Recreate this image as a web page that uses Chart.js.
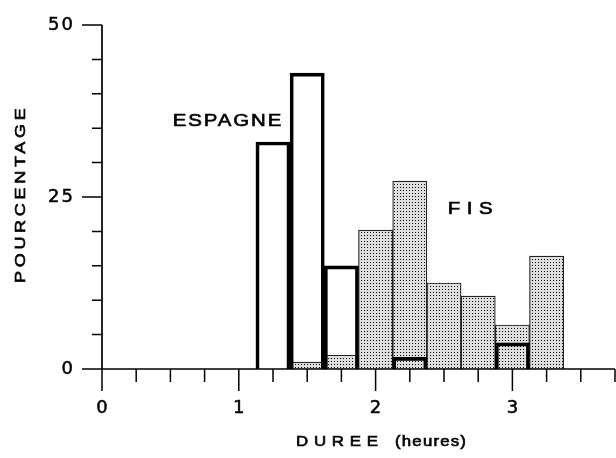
<!DOCTYPE html>
<html><head><meta charset="utf-8">
<script src="https://cdn.jsdelivr.net/npm/chart.js@4"></script>
<style>html,body{margin:0;padding:0;background:#fff;}#wrap{width:616px;height:458px;}</style>
</head><body><div id="wrap"><canvas id="c"></canvas></div>
<script>
// ---- data ----
const durations = [1.25, 1.5, 1.75, 2.0, 2.25, 2.5, 2.75, 3.0, 3.25]; // hours, bin centres
const espagne   = [33, 43, 15, 0, 1.7, 0, 0, 3.8, 0];                 // %
const fis       = [0, 1, 2, 20.2, 27.3, 12.5, 10.6, 6.4, 16.4];        // %
const xTickLabels = ['0', '1', '2', '3'];
const yTickLabels = ['0', '25', '50'];
const seriesNames = ['ESPAGNE', 'FIS'];
const xTitleParts = ['DUREE', '(heures)'];
const yTitle = 'POURCENTAGE';

const INK = '#000';
const FONT = '"Liberation Sans", Arial, Helvetica, sans-serif';
const TICKFONT = '"DejaVu Sans", "Liberation Sans", sans-serif';
const TICK_SPACING = 2;

function stipplePattern(ctx) {
  const c = document.createElement('canvas');
  c.width = 3; c.height = 3;
  const g = c.getContext('2d');
  g.fillStyle = '#dedede'; g.fillRect(0, 0, 3, 3);
  g.fillStyle = '#000'; g.fillRect(1, 1, 1, 1);
  return ctx.createPattern(c, 'repeat');
}

function spacedText(ctx, text, x, y, o) {
  const sx = o.sx || 1.2, sp = o.sp || 0;
  ctx.save();
  ctx.translate(x, y);
  if (o.rot) ctx.rotate(o.rot);
  ctx.scale(sx, 1);
  ctx.font = o.size + 'px ' + FONT;
  ctx.letterSpacing = (sp / sx) + 'px';
  ctx.textBaseline = 'alphabetic';
  ctx.textAlign = 'left';
  ctx.fillStyle = INK;
  ctx.strokeStyle = INK;
  ctx.lineWidth = 0.6;
  ctx.fillText(text, 0, 0);
  ctx.strokeText(text, 0, 0);
  ctx.restore();
}

const ctx = document.getElementById('c').getContext('2d');
const toPts = (vals) => durations.map((d, i) => ({ x: d, y: vals[i] }));

const axesPlugin = {
  id: 'axesPlugin',
  beforeDraw(chart) { chart.ctx.letterSpacing = TICK_SPACING + 'px'; },
  beforeDatasetsDraw(chart) { chart.ctx.letterSpacing = '0px'; },
  afterDatasetsDraw(chart) {
    const c = chart.ctx, xs = chart.scales.x, ys = chart.scales.y;
    const x0 = xs.getPixelForValue(0), y0 = ys.getPixelForValue(0);
    c.save();
    c.letterSpacing = '0px';
    c.strokeStyle = INK;
    c.lineCap = 'butt';
    c.lineWidth = 1.7;
    c.beginPath();
    c.moveTo(x0, ys.getPixelForValue(50));
    c.lineTo(x0, y0);
    c.moveTo(x0, y0);
    c.lineTo(xs.getPixelForValue(3.75), y0);
    c.stroke();
    c.lineWidth = 1.5;
    c.beginPath();
    xs.ticks.forEach(t => {
      const px = xs.getPixelForValue(t.value);
      const major = xTickLabels.includes(String(t.value));
      c.moveTo(px, y0);
      c.lineTo(px, y0 + (major ? 22 : 13));
    });
    ys.ticks.forEach(t => {
      const py = ys.getPixelForValue(t.value);
      const major = yTickLabels.includes(String(t.value));
      c.moveTo(x0, py);
      c.lineTo(x0 - (major ? 20 : 10), py);
    });
    c.stroke();
    c.restore();
  },
  afterDraw(chart) {
    const c = chart.ctx, xs = chart.scales.x, ys = chart.scales.y;
    spacedText(c, yTitle, 25, 283, { size: 15, sp: 3.7, rot: -Math.PI / 2 });
    spacedText(c, xTitleParts[0], 296, 446, { size: 14, sp: 5.8 });
    spacedText(c, xTitleParts[1], 395, 446, { size: 14, sp: 1.2 });
    spacedText(c, seriesNames[0], xs.getPixelForValue(0.517), ys.getPixelForValue(35.3), { size: 17, sp: 1.9 });
    spacedText(c, seriesNames[1], xs.getPixelForValue(2.527), ys.getPixelForValue(22.5), { size: 17, sp: 6.6 });
  }
};

new Chart(ctx, {
  type: 'bar',
  data: {
    datasets: [
      {
        label: seriesNames[0],
        data: toPts(espagne),
        backgroundColor: 'rgba(0,0,0,0)',
        borderColor: INK,
        borderWidth: 3,
        grouped: false,
        barPercentage: 1,
        categoryPercentage: 1
      },
      {
        label: seriesNames[1],
        data: toPts(fis),
        backgroundColor: stipplePattern(ctx),
        borderColor: '#222',
        borderWidth: 1.2,
        grouped: false,
        barPercentage: 1,
        categoryPercentage: 1
      }
    ]
  },
  options: {
    responsive: true,
    maintainAspectRatio: false,
    animation: false,
    events: [],
    layout: { padding: { top: 25, right: 1, left: 0, bottom: 0 } },
    plugins: { legend: { display: false }, tooltip: { enabled: false }, title: { display: false } },
    scales: {
      x: {
        type: 'linear',
        offset: false,
        min: 0, max: 3.75,
        grid: { display: false, offset: false, drawTicks: true, tickLength: 29 },
        border: { display: false },
        ticks: {
          stepSize: 0.25,
          autoSkip: false,
          maxRotation: 0,
          padding: 0,
          labelOffset: TICK_SPACING / 2,
          color: INK,
          textStrokeColor: INK,
          textStrokeWidth: 0.5,
          font: { family: TICKFONT, size: 18 },
          callback: (v) => xTickLabels.includes(String(v)) ? String(v) : ''
        },
        afterFit: (s) => { s.height = 89; }
      },
      y: {
        min: 0, max: 50,
        grid: { display: false, drawTicks: true, tickLength: 27 },
        border: { display: false },
        ticks: {
          stepSize: 5,
          autoSkip: false,
          padding: 0,
          color: INK,
          textStrokeColor: INK,
          textStrokeWidth: 0.5,
          font: { family: TICKFONT, size: 18 },
          callback: (v) => yTickLabels.includes(String(v)) ? String(v) : ''
        },
        afterFit: (s) => { s.width = 102; }
      }
    }
  },
  plugins: [axesPlugin]
});
</script>
</body></html>
